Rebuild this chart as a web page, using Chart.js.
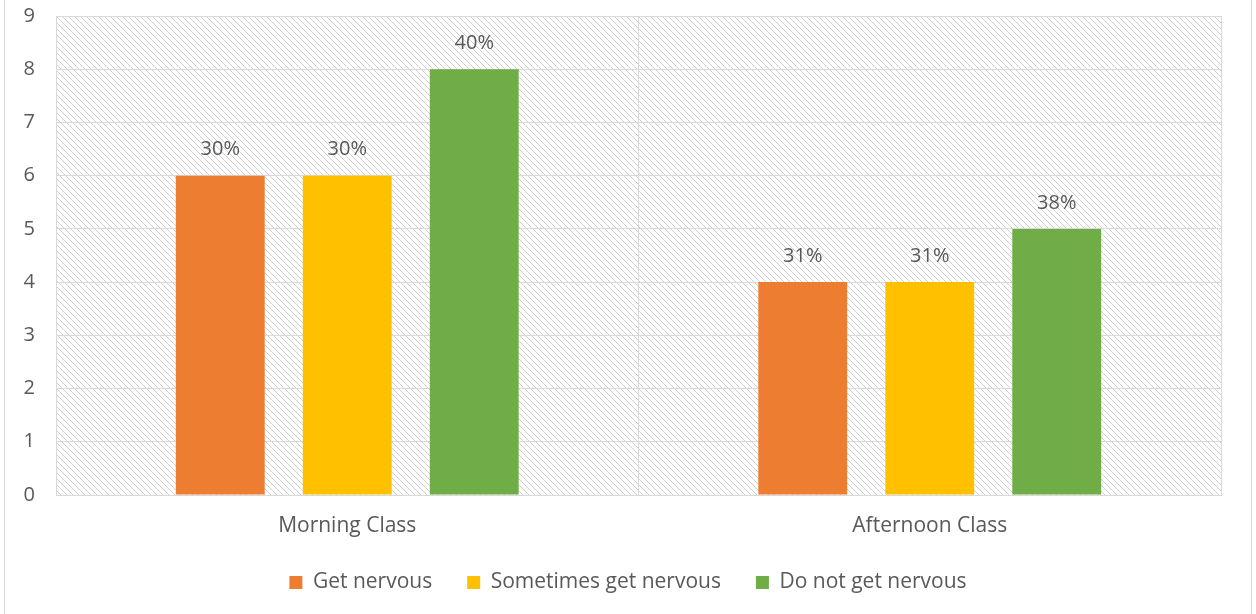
<!DOCTYPE html>
<html>
<head>
<meta charset="utf-8">
<script src="https://cdn.jsdelivr.net/npm/chart.js@4"></script>
<style>
  html, body { margin: 0; padding: 0; background: #fff; }
  #frame {
    position: absolute; left: 4px; top: -1px;
    width: 1246px; height: 620px;
    border: 1px solid #d9d9d9;
  }
  #wrap { position: absolute; left: 0; top: 1px; width: 1246px; height: 614px; }
</style>
</head>
<body>
<div id="frame"><div id="wrap"><canvas id="nervousChart"></canvas></div></div>
<script>
// categories and series
const classes = ['Morning Class', 'Afternoon Class'];
const getNervous = [6, 4];
const sometimesNervous = [6, 4];
const notNervous = [8, 5];
// percentage labels printed above each bar
const getNervousPct = ['30%', '31%'];
const sometimesNervousPct = ['30%', '31%'];
const notNervousPct = ['40%', '38%'];
const yTicks = [0, 1, 2, 3, 4, 5, 6, 7, 8, 9];

const FONT = '"Open Sans", Lato, sans-serif';
const TEXT = '#595959';
const GRID = '#d9d9d9';

// light diagonal hatch used behind the bars
function makeHatch() {
    const c = document.createElement('canvas');
    c.width = 6; c.height = 6;
    const g = c.getContext('2d');
    const img = g.createImageData(6, 6);
    for (let y = 0; y < 6; y++) {
        for (let x = 0; x < 6; x++) {
            const i = (y * 6 + x) * 4;
            const on = ((x - y) % 6 + 6) % 6 === 0;
            const v = on ? 208 : 255;
            img.data[i] = v; img.data[i + 1] = v; img.data[i + 2] = v; img.data[i + 3] = 255;
        }
    }
    g.putImageData(img, 0, 0);
    return c;
}

const hatchBackground = {
    id: 'hatchBackground',
    beforeDraw(chart) {
        const { ctx, chartArea: a } = chart;
        ctx.save();
        ctx.fillStyle = ctx.createPattern(makeHatch(), 'repeat');
        ctx.fillRect(a.left, a.top, a.right - a.left, a.bottom - a.top);
        ctx.restore();
    }
};

const barLabels = {
    id: 'barLabels',
    afterDatasetsDraw(chart) {
        const ctx = chart.ctx;
        ctx.save();
        ctx.font = '20px ' + FONT;
        ctx.fillStyle = TEXT;
        ctx.textAlign = 'center';
        ctx.textBaseline = 'middle';
        chart.data.datasets.forEach((ds, di) => {
            chart.getDatasetMeta(di).data.forEach((bar, i) => {
                ctx.fillText(ds.pctLabels[i], bar.x, bar.y - 26);
            });
        });
        ctx.restore();
    }
};

new Chart(document.getElementById('nervousChart'), {
    type: 'bar',
    data: {
        labels: classes,
        datasets: [
            { label: 'Get nervous', data: getNervous, pctLabels: getNervousPct, backgroundColor: '#ED7D31' },
            { label: 'Sometimes get nervous', data: sometimesNervous, pctLabels: sometimesNervousPct, backgroundColor: '#FFC000' },
            { label: 'Do not get nervous', data: notNervous, pctLabels: notNervousPct, backgroundColor: '#70AD47' }
        ]
    },
    options: {
        responsive: true,
        maintainAspectRatio: false,
        animation: false,
        categoryPercentage: 0.654,
        barPercentage: 0.70,
        layout: { padding: { top: 6, right: 0, bottom: 12, left: 0 } },
        plugins: {
            legend: {
                position: 'bottom',
                labels: {
                    boxWidth: 13, boxHeight: 13, padding: 35,
                    color: TEXT,
                    font: { family: FONT, size: 21 }
                }
            },
            tooltip: { enabled: false }
        },
        scales: {
            x: {
                grid: { color: GRID, lineWidth: 1, drawTicks: false, offset: true },
                border: { color: GRID },
                ticks: { color: TEXT, font: { family: FONT, size: 21, lineHeight: 1.0 }, padding: 21 },
                afterFit(s) { s.height = 42; }
            },
            y: {
                min: 0, max: 9,
                afterBuildTicks(s) { s.ticks = yTicks.map(v => ({ value: v })); },
                grid: { color: GRID, lineWidth: 1, drawTicks: true, tickLength: 18, tickColor: 'transparent' },
                border: { display: false },
                ticks: { color: TEXT, font: { family: FONT, size: 20 }, padding: 3 },
                afterFit(s) { s.width = 51; }
            },
            // empty right-hand axis that keeps the plot clear of the frame
            yRight: {
                position: 'right',
                display: true,
                grid: { display: false },
                border: { display: false },
                ticks: { display: false },
                afterFit(s) { s.width = 30; }
            }
        }
    },
    plugins: [hatchBackground, barLabels]
});
</script>
</body>
</html>
